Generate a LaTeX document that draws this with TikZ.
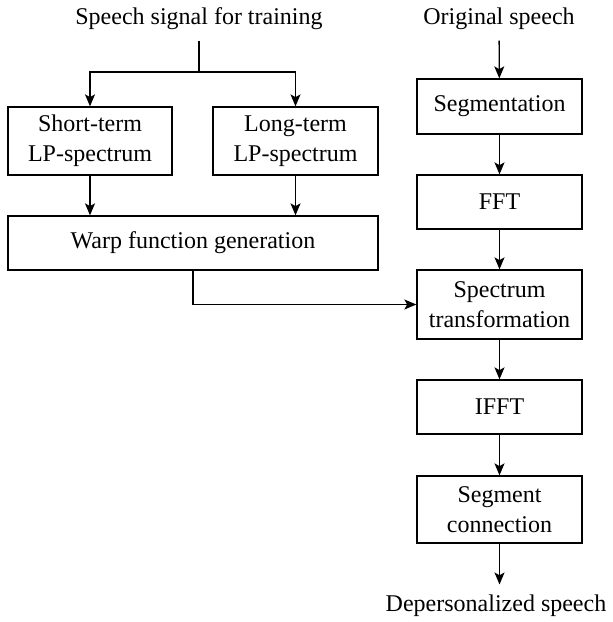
\documentclass[tikz,border=0pt]{standalone}
\usepackage{fontspec}
\setmainfont{Liberation Serif}
\usetikzlibrary{arrows.meta}
\begin{document}
\begin{tikzpicture}[x=0.5pt,y=-0.5pt,line width=0.65pt,
    font=\fontsize{12}{15}\selectfont,
    every node/.style={align=center,inner sep=5pt},
    box/.style={draw,minimum width=82.5pt,inner sep=0pt},
    >={Stealth[length=6pt,width=5pt,inset=1.4pt]}]
      \useasboundingbox (0,0) rectangle (613,622);
      \draw
        (199,19) node (train){Speech signal for training}
        (499,19) node (orig){Original speech}
        (90,141) node[box,minimum width=82pt,minimum height=34pt] (short){Short-term\\LP-spectrum}
        (295.5,141) node[box,minimum height=34pt] (long){Long-term\\LP-spectrum}
        (193,243) node[box,minimum width=185pt,minimum height=27pt] (warp){Warp function generation}
        (499.5,106.5) node[box,minimum height=27.5pt] (seg){Segmentation}
        (499.5,202) node[box,minimum height=27pt] (fft){FFT}
        (499.5,304.5) node[box,minimum height=34.5pt] (spec){Spectrum\\transformation}
        (499.5,407) node[box,minimum height=27pt] (ifft){IFFT}
        (499.5,509.5) node[box,minimum height=33.5pt] (conn){Segment\\connection}
        (496,606) node (depers){Depersonalized speech};
      \coordinate (split) at (199,72);
      \begin{scope}[->]
        \draw[-] (train) -- (split);
        \draw (split) -| (short);
        \draw (split) -| (long);
        \draw (short) -- (short |- warp.north);
        \draw (long) -- (long |- warp.north);
        \draw (warp) |- (spec);
        \draw (orig) -- (seg);
        \draw (seg) -- (fft);
        \draw (fft) -- (spec);
        \draw (spec) -- (ifft);
        \draw (ifft) -- (conn);
        \draw (conn) -- (conn |- depers.north);
      \end{scope}
    \end{tikzpicture}
\end{document}
